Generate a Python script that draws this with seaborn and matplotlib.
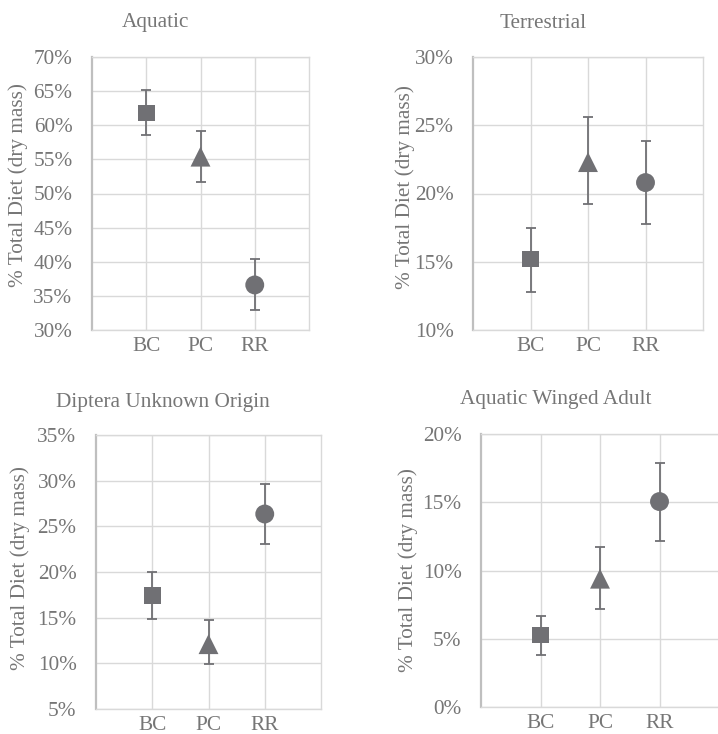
import numpy as np
import pandas as pd
import matplotlib
matplotlib.use("Agg")
import matplotlib.pyplot as plt
import seaborn as sns
from matplotlib.ticker import FuncFormatter

sns.set_theme(style="white")
plt.rcParams['font.family'] = ['Liberation Serif', 'DejaVu Serif']

# ---- data ----
sites = ["BC", "PC", "RR"]
titles = ["Aquatic", "Terrestrial", "Diptera Unknown Origin", "Aquatic Winged Adult"]

aquatic_mean = [61.8, 55.4, 36.6]
aquatic_low = [58.5, 51.7, 32.9]
aquatic_high = [65.2, 59.2, 40.4]

terrestrial_mean = [15.2, 22.3, 20.8]
terrestrial_low = [12.8, 19.2, 17.8]
terrestrial_high = [17.5, 25.6, 23.85]

diptera_mean = [17.4, 12.1, 26.35]
diptera_low = [14.8, 9.9, 23.1]
diptera_high = [20.0, 14.7, 29.6]

winged_mean = [5.27, 9.4, 15.05]
winged_low = [3.84, 7.2, 12.14]
winged_high = [6.7, 11.75, 17.9]

y_ticks = [
    [30, 35, 40, 45, 50, 55, 60, 65, 70],
    [10, 15, 20, 25, 30],
    [5, 10, 15, 20, 25, 30, 35],
    [0, 5, 10, 15, 20],
]
ylabel = "% Total Diet (dry mass)"

means = [aquatic_mean, terrestrial_mean, diptera_mean, winged_mean]
lows = [aquatic_low, terrestrial_low, diptera_low, winged_low]
highs = [aquatic_high, terrestrial_high, diptera_high, winged_high]

# ---- style ----
marker_color = "#707074"
text_color = "#767676"
grid_color = "#d9d9d9"
markers = {"BC": "s", "PC": "^", "RR": "o"}
sizes = {"BC": 145, "PC": 205, "RR": 185}
fs = 15.3

W, H = 718, 734
fig = plt.figure(figsize=(W / 100, H / 100), dpi=100)

# axes boxes in pixels: left, right, top, bottom
boxes = [
    (92, 309, 57, 330),
    (473, 703, 57, 330),
    (96, 321, 435, 709),
    (481, 719, 434, 707),
]
# title center (px) and ylabel center (px)
title_px = [(155.5, 23), (543, 23), (163, 402), (556, 400)]
ylab_px = [(18, 185), (405, 187), (20, 568), (408, 570)]

for i in range(4):
    l, r, t, b = boxes[i]
    ax = fig.add_axes([l / W, 1 - b / H, (r - l) / W, (b - t) / H])
    df = pd.DataFrame({
        "site": sites,
        "mean": means[i],
        "low": lows[i],
        "high": highs[i],
    })
    xpos = np.arange(len(sites))
    m = np.array(df["mean"])
    yerr = np.vstack([m - np.array(df["low"]), np.array(df["high"]) - m])
    ax.errorbar(xpos, m, yerr=yerr, fmt="none", ecolor=marker_color,
                elinewidth=1.3, capsize=3.5, capthick=1.3, zorder=2)
    sns.scatterplot(data=df, x="site", y="mean", style="site", markers=markers,
                    size="site", sizes=sizes, color=marker_color,
                    edgecolor="none", linewidth=0, legend=False, ax=ax, zorder=3)

    yt = y_ticks[i]
    ax.set_ylim(yt[0], yt[-1])
    ax.set_yticks(yt)
    ax.yaxis.set_major_formatter(FuncFormatter(lambda v, p: f"{v:.0f}%"))
    ax.set_xlim(-1, len(sites))
    ax.set_xticks(xpos)
    ax.set_xticklabels(sites)
    ax.set_xlabel("")

    ax.grid(True, color=grid_color, linewidth=1.0, zorder=0)
    ax.set_axisbelow(True)
    for s in ["top", "right", "bottom"]:
        ax.spines[s].set_color(grid_color)
        ax.spines[s].set_linewidth(1.0)
    ax.spines["left"].set_color("#bfbfbf")
    ax.spines["left"].set_linewidth(1.6)

    ax.tick_params(axis="y", length=0, pad=14, labelsize=fs, labelcolor=text_color)
    ax.tick_params(axis="x", length=0, pad=5, labelsize=fs, labelcolor=text_color)

    ax.set_ylabel(ylabel, fontsize=fs, color=text_color, va="center")
    lx, ly = ylab_px[i]
    ax.yaxis.set_label_coords((lx - l) / (r - l), (b - ly) / (b - t))

    tx, ty = title_px[i]
    ax.set_title(titles[i], fontsize=fs, color=text_color,
                 x=(tx - l) / (r - l), y=(b - ty) / (b - t), va="center", pad=0)

fig.savefig("out.png", dpi=100)
